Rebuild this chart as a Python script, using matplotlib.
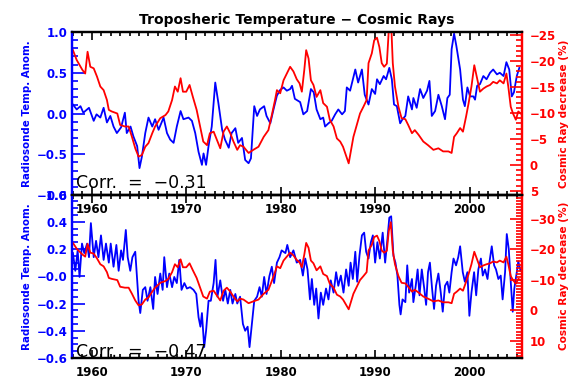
import matplotlib
matplotlib.use("Agg")
import matplotlib.pyplot as plt
from matplotlib.ticker import FixedLocator, FixedFormatter, MultipleLocator

BLUE = "#0000ff"
RED = "#ff0000"

# cosmic ray decrease (%) - same series drawn in both panels
cr_years = [
    1958.0, 1958.4, 1959.0, 1959.3, 1959.55, 1959.84, 1960.2, 1960.55, 1960.9, 1961.25,
    1961.6, 1961.8, 1962.1, 1962.7, 1963.0, 1963.5, 1963.9, 1964.25, 1964.6, 1964.95,
    1965.3, 1965.66, 1966.0, 1966.4, 1966.7, 1967.25, 1967.8, 1968.1, 1968.5, 1968.8,
    1969.1, 1969.4, 1969.65, 1970.0, 1970.35, 1970.7, 1971.1, 1971.5, 1971.8, 1972.2,
    1972.5, 1972.9, 1973.25, 1973.6, 1973.95, 1974.3, 1974.66, 1975.0, 1975.4, 1975.7,
    1976.06, 1976.6, 1977.1, 1977.65, 1978.2, 1978.7, 1979.06, 1979.4, 1979.6, 1979.95,
    1980.3, 1980.65, 1981.0, 1981.35, 1981.7, 1982.0, 1982.24, 1982.5, 1982.7, 1982.95,
    1983.2, 1983.47, 1983.8, 1984.2, 1984.5, 1984.9, 1985.2, 1985.6, 1985.95, 1986.3,
    1986.6, 1986.9, 1987.2, 1987.46, 1987.7, 1988.06, 1988.4, 1988.76, 1989.1, 1989.3,
    1989.65, 1989.9, 1990.2, 1990.45, 1990.7, 1990.95, 1991.24, 1991.45, 1991.66, 1991.87,
    1992.1, 1992.47, 1992.8, 1993.2, 1993.5, 1993.9, 1994.2, 1994.6, 1995.1, 1995.6,
    1996.17, 1996.7, 1997.2, 1997.76, 1998.1, 1998.36, 1998.65, 1999.0, 1999.3, 1999.63,
    1999.9, 2000.2, 2000.5, 2000.76, 2001.1, 2001.46, 2001.8, 2002.17, 2002.5, 2002.9,
    2003.2, 2003.6, 2003.9, 2004.1, 2004.36, 2004.6, 2004.9, 2005.16, 2005.4,
]
cr_values = [
    -22.1, -20.2, -18.3, -17.6, -21.8, -18.9, -18.6, -17.0, -15.1, -14.4,
    -12.5, -10.6, -10.3, -9.9, -7.7, -7.4, -7.4, -5.4, -3.2, -1.6,
    -1.9, -3.5, -4.2, -6.1, -7.4, -9.0, -9.6, -10.3, -12.5, -15.1,
    -14.1, -16.7, -14.1, -14.1, -15.4, -13.1, -10.6, -7.1, -4.5, -3.8,
    -6.1, -6.4, -4.8, -3.2, -6.4, -7.4, -6.1, -4.5, -2.9, -3.8,
    -3.5, -2.3, -2.9, -3.5, -5.4, -6.7, -9.6, -12.5, -14.4, -13.8,
    -16.3, -17.6, -18.9, -18.0, -16.5, -15.7, -14.1, -18.3, -22.1, -20.5,
    -16.3, -15.4, -13.1, -14.4, -11.9, -11.2, -8.7, -7.4, -5.1, -4.5,
    -3.5, -1.9, -0.3, -2.9, -5.4, -7.7, -9.9, -11.2, -12.5, -19.6,
    -21.5, -24.0, -24.5, -22.7, -19.6, -18.9, -19.5, -26.1, -28.9, -19.6,
    -15.1, -11.2, -9.0, -8.8, -7.7, -6.1, -6.7, -5.8, -4.5, -3.8,
    -2.9, -3.2, -2.6, -2.6, -2.3, -5.4, -6.1, -7.1, -6.4, -9.3,
    -11.9, -15.1, -19.2, -17.0, -14.1, -14.7, -15.1, -15.4, -16.0, -15.7,
    -16.3, -15.7, -17.6, -15.1, -11.2, -9.9, -8.7, -10.3, -9.9,
]

# radiosonde temperature anomaly, upper panel
temp_top_years = [
    1958.0, 1958.4, 1958.8, 1959.1, 1959.7, 1960.2, 1960.5, 1960.9, 1961.25, 1961.6,
    1961.96, 1962.3, 1962.65, 1963.1, 1963.5, 1963.7, 1964.1, 1964.4, 1964.8, 1965.05,
    1965.3, 1965.66, 1966.0, 1966.4, 1966.7, 1967.07, 1967.6, 1967.96, 1968.3, 1968.66,
    1969.0, 1969.4, 1969.7, 1970.24, 1970.6, 1970.95, 1971.3, 1971.66, 1971.83, 1972.1,
    1972.36, 1972.7, 1973.07, 1973.4, 1973.8, 1974.1, 1974.5, 1974.8, 1975.2, 1975.5,
    1975.9, 1976.24, 1976.6, 1976.85, 1977.2, 1977.5, 1977.8, 1978.25, 1978.5, 1978.9,
    1979.24, 1979.6, 1979.95, 1980.3, 1980.65, 1981.0, 1981.2, 1981.5, 1982.06, 1982.4,
    1982.8, 1983.2, 1983.5, 1983.8, 1984.2, 1984.5, 1984.7, 1985.06, 1985.4, 1985.77,
    1986.1, 1986.5, 1986.8, 1987.0, 1987.35, 1987.9, 1988.2, 1988.6, 1988.9, 1989.3,
    1989.65, 1990.0, 1990.2, 1990.5, 1990.9, 1991.16, 1991.5, 1991.77, 1992.0, 1992.3,
    1992.65, 1992.9, 1993.2, 1993.5, 1993.9, 1994.05, 1994.4, 1994.76, 1995.1, 1995.5,
    1995.75, 1996.0, 1996.35, 1996.7, 1997.06, 1997.4, 1997.65, 1997.9, 1998.1, 1998.36,
    1998.6, 1999.0, 1999.3, 1999.5, 1999.77, 2000.05, 2000.4, 2000.58, 2000.8, 2001.1,
    2001.46, 2001.8, 2002.17, 2002.5, 2002.9, 2003.2, 2003.6, 2003.9, 2004.2, 2004.47,
    2004.7, 2005.0, 2005.27,
]
temp_top_values = [
    0.11, 0.05, 0.09, 0.01, 0.07, -0.09, -0.01, -0.05, 0.07, -0.11,
    -0.03, -0.16, -0.24, -0.17, 0.01, -0.24, -0.16, -0.28, -0.40, -0.67,
    -0.53, -0.24, -0.05, -0.16, -0.07, -0.20, -0.05, -0.24, -0.32, -0.36,
    -0.16, 0.03, -0.07, -0.05, -0.09, -0.24, -0.47, -0.63, -0.49, -0.63,
    -0.40, -0.16, 0.38, 0.13, -0.20, -0.32, -0.42, -0.24, -0.18, -0.36,
    -0.30, -0.57, -0.61, -0.55, 0.09, -0.03, 0.05, 0.09, -0.03, -0.12,
    0.05, 0.22, 0.29, 0.32, 0.28, 0.30, 0.34, 0.18, 0.14, -0.01,
    0.03, 0.30, 0.26, 0.05, -0.07, -0.05, -0.16, -0.12, -0.09, -0.01,
    0.05, -0.01, 0.03, 0.32, 0.28, 0.54, 0.38, 0.54, 0.23, 0.11,
    0.30, 0.24, 0.42, 0.36, 0.46, 0.42, 0.56, 0.42, 0.11, 0.09,
    -0.12, -0.07, -0.03, 0.21, 0.05, 0.19, 0.07, 0.30, 0.19, 0.28,
    0.40, -0.03, 0.03, 0.23, 0.09, -0.07, 0.19, 0.23, 0.79, 0.98,
    0.83, 0.54, 0.17, 0.09, 0.32, 0.21, 0.21, 0.17, 0.34, 0.36,
    0.46, 0.42, 0.50, 0.54, 0.48, 0.50, 0.46, 0.63, 0.54, 0.21,
    0.26, 0.46, 0.56,
]

# radiosonde temperature anomaly, lower panel
temp_bot_years = [
    1958.0, 1958.25, 1958.5, 1958.7, 1958.96, 1959.2, 1959.5, 1959.7, 1959.9, 1960.2,
    1960.45, 1960.7, 1960.97, 1961.25, 1961.5, 1961.8, 1962.0, 1962.3, 1962.6, 1962.84,
    1963.1, 1963.3, 1963.6, 1963.8, 1964.07, 1964.3, 1964.6, 1964.8, 1964.95, 1965.13,
    1965.4, 1965.66, 1965.9, 1966.2, 1966.5, 1966.7, 1966.96, 1967.25, 1967.5, 1967.67,
    1967.96, 1968.2, 1968.5, 1968.73, 1969.0, 1969.26, 1969.5, 1969.8, 1970.07, 1970.4,
    1970.77, 1971.06, 1971.3, 1971.5, 1971.66, 1971.9, 1972.1, 1972.36, 1972.6, 1972.9,
    1973.1, 1973.3, 1973.6, 1973.9, 1974.13, 1974.4, 1974.66, 1974.9, 1975.2, 1975.4,
    1975.7, 1976.0, 1976.24, 1976.5, 1976.7, 1976.95, 1977.2, 1977.5, 1977.76, 1978.0,
    1978.25, 1978.5, 1978.8, 1979.06, 1979.3, 1979.6, 1979.87, 1980.1, 1980.5, 1980.7,
    1981.0, 1981.35, 1981.7, 1982.06, 1982.35, 1982.6, 1982.84, 1983.1, 1983.3, 1983.55,
    1983.76, 1984.0, 1984.25, 1984.5, 1984.8, 1985.06, 1985.3, 1985.6, 1985.87, 1986.1,
    1986.37, 1986.65, 1986.93, 1987.2, 1987.4, 1987.64, 1987.9, 1988.1, 1988.34, 1988.6,
    1988.84, 1989.05, 1989.3, 1989.55, 1989.76, 1990.0, 1990.24, 1990.5, 1990.8, 1991.06,
    1991.3, 1991.5, 1991.7, 1991.94, 1992.15, 1992.36, 1992.57, 1992.7, 1992.9, 1993.2,
    1993.4, 1993.6, 1993.9, 1994.05, 1994.3, 1994.5, 1994.7, 1994.94, 1995.2, 1995.4,
    1995.6, 1995.8, 1996.03, 1996.24, 1996.45, 1996.7, 1996.95, 1997.16, 1997.4, 1997.65,
    1997.86, 1998.1, 1998.3, 1998.57, 1998.8, 1999.0, 1999.28, 1999.5, 1999.77, 1999.98,
    2000.2, 2000.48, 2000.7, 2000.93, 2001.2, 2001.4, 2001.64, 2001.9, 2002.1, 2002.35,
    2002.6, 2002.8, 2003.05, 2003.3, 2003.5, 2003.76, 2003.94, 2004.15, 2004.36, 2004.57,
    2004.74, 2005.0, 2005.16, 2005.4,
]
temp_bot_values = [
    0.17, 0.04, 0.19, -0.005, 0.24, 0.17, 0.24, 0.14, 0.39, 0.14,
    0.26, 0.14, 0.30, 0.12, 0.24, 0.10, 0.24, 0.07, 0.23, 0.04,
    0.19, 0.12, 0.34, 0.14, 0.04, 0.14, 0.18, -0.03, -0.18, -0.27,
    -0.10, -0.08, -0.18, -0.08, -0.24, -0.005, -0.13, 0.02, -0.10, 0.14,
    -0.08, 0.02, -0.08, -0.005, -0.05, 0.12, -0.10, -0.05, -0.09, -0.08,
    -0.10, -0.13, -0.30, -0.37, -0.27, -0.52, -0.40, -0.18, -0.18, -0.05,
    0.12, -0.15, -0.03, -0.18, -0.10, -0.20, -0.10, -0.20, -0.13, -0.20,
    -0.15, -0.35, -0.40, -0.37, -0.52, -0.35, -0.18, -0.15, -0.08, -0.15,
    -0.005, -0.13, 0.0, 0.07, -0.05, 0.10, 0.14, 0.19, 0.17, 0.23,
    0.14, 0.19, 0.10, 0.12, 0.005, 0.13, 0.05, -0.17, -0.02, -0.21,
    -0.09, -0.31, -0.12, -0.21, -0.09, -0.17, -0.03, -0.12, 0.03, -0.07,
    0.005, -0.12, 0.05, -0.07, 0.10, -0.02, 0.18, -0.04, 0.15, 0.30,
    0.32, 0.18, 0.13, 0.25, 0.30, 0.10, 0.25, 0.13, 0.32, 0.10,
    0.27, 0.43, 0.44, 0.15, 0.10, 0.005, -0.21, -0.28, -0.17, -0.19,
    0.08, -0.12, -0.02, -0.19, -0.07, 0.05, -0.14, 0.05, -0.09, -0.21,
    0.03, 0.10, -0.09, -0.24, -0.07, 0.02, -0.12, -0.26, -0.07, -0.04,
    -0.12, 0.03, 0.13, 0.08, 0.14, 0.22, 0.03, -0.04, 0.03, -0.29,
    -0.12, 0.03, -0.14, 0.05, 0.13, 0.005, 0.05, -0.02, 0.10, 0.22,
    0.08, 0.05, -0.02, 0.005, -0.17, 0.03, 0.31, 0.20, -0.04, -0.26,
    -0.09, 0.03, 0.11, 0.04,
]

corr_labels = ["Corr.  =  \u22120.31", "Corr.  =  \u22120.47"]

year_ticks = [1960, 1970, 1980, 1990, 2000]
top_left_ticks = [-1.0, -0.5, 0.0, 0.5, 1.0]
top_left_labels = ["\u22121.0", "\u22120.5", "0.0", "0.5", "1.0"]
top_right_ticks = [5, 0, -5, -10, -15, -20, -25]
top_right_labels = ["5", "0", "\u22125", "\u221210", "\u221215", "\u221220", "\u221225"]
bot_left_ticks = [-0.6, -0.4, -0.2, 0.0, 0.2, 0.4, 0.6]
bot_left_labels = ["\u22120.6", "\u22120.4", "\u22120.2", "\u22120.0", "0.2", "0.4", "0.6"]
bot_right_ticks = [10, 0, -10, -20, -30]
bot_right_labels = ["10", "0", "\u221210", "\u221220", "\u221230"]

plt.rcParams["font.family"] = "DejaVu Sans"
plt.rcParams["font.weight"] = "bold"

fig = plt.figure(figsize=(5.81, 3.87), dpi=100)
ax_top = fig.add_axes([0.1239, 0.4961, 0.7737, 0.4212])
ax_bot = fig.add_axes([0.1239, 0.0749, 0.7737, 0.4225])
# lower panel sits on top of the upper one's year labels, keep it see-through
ax_bot.patch.set_visible(False)


def draw_panel(ax, t_years, t_values, t_lim, t_ticks, t_labels, t_minor,
               r_lim, r_ticks, r_labels, corr_text, corr_y):
    ax.plot(t_years, t_values, color=BLUE, lw=1.3)
    ax.set_xlim(1957.9, 2005.5)
    ax.set_ylim(*t_lim)

    axr = ax.twinx()
    axr.plot(cr_years, cr_values, color=RED, lw=1.3)
    axr.set_ylim(*r_lim)

    ax.xaxis.set_major_locator(FixedLocator(year_ticks))
    ax.xaxis.set_minor_locator(MultipleLocator(1))
    ax.tick_params(axis="x", which="both", direction="in", top=True, bottom=True,
                   labelsize=8.5, pad=6, width=1.2, colors="black")
    ax.tick_params(axis="x", which="major", length=6)
    ax.tick_params(axis="x", which="minor", length=3)

    ax.yaxis.set_major_locator(FixedLocator(t_ticks))
    ax.yaxis.set_major_formatter(FixedFormatter(t_labels))
    ax.yaxis.set_minor_locator(MultipleLocator(t_minor))
    ax.tick_params(axis="y", which="both", direction="in", colors=BLUE,
                   labelsize=8.5, pad=3, width=1.2)
    ax.tick_params(axis="y", which="major", length=9)
    ax.tick_params(axis="y", which="minor", length=4)

    axr.yaxis.set_major_locator(FixedLocator(r_ticks))
    axr.yaxis.set_major_formatter(FixedFormatter(r_labels))
    axr.yaxis.set_minor_locator(MultipleLocator(1))
    axr.tick_params(axis="y", which="both", direction="in", colors=RED,
                    labelsize=8.5, pad=6, width=1.2)
    axr.tick_params(axis="y", which="major", length=9)
    axr.tick_params(axis="y", which="minor", length=4)

    for a in (ax, axr):
        a.spines["left"].set_color(BLUE)
        a.spines["right"].set_color(RED)
        for s in a.spines.values():
            s.set_linewidth(1.6)

    ax.set_ylabel("Radiosonde Temp. Anom.", color=BLUE, fontsize=7.4,
                  fontweight="bold")
    ax.yaxis.set_label_coords(-0.09, 0.5)
    axr.set_ylabel("Cosmic Ray decrease (%)", color=RED, fontsize=7.6,
                   fontweight="bold")
    axr.yaxis.set_label_coords(1.083, 0.5)

    ax.text(0.01, corr_y, corr_text, transform=ax.transAxes, fontsize=12.5,
            fontweight="normal", color="black", va="baseline", ha="left")
    return axr


draw_panel(ax_top, temp_top_years, temp_top_values, (-1.0, 1.0),
           top_left_ticks, top_left_labels, 0.1,
           (5.8, -25.6), top_right_ticks, top_right_labels, corr_labels[0], 0.043)
draw_panel(ax_bot, temp_bot_years, temp_bot_values, (-0.6, 0.6),
           bot_left_ticks, bot_left_labels, 0.05,
           (15.7, -38.0), bot_right_ticks, bot_right_labels, corr_labels[1], 0.008)

fig.text(0.511, 0.948, "Troposheric Temperature \u2212 Cosmic Rays", ha="center",
         va="center", fontsize=10, fontweight="bold")

fig.savefig("out.png", dpi=100)
